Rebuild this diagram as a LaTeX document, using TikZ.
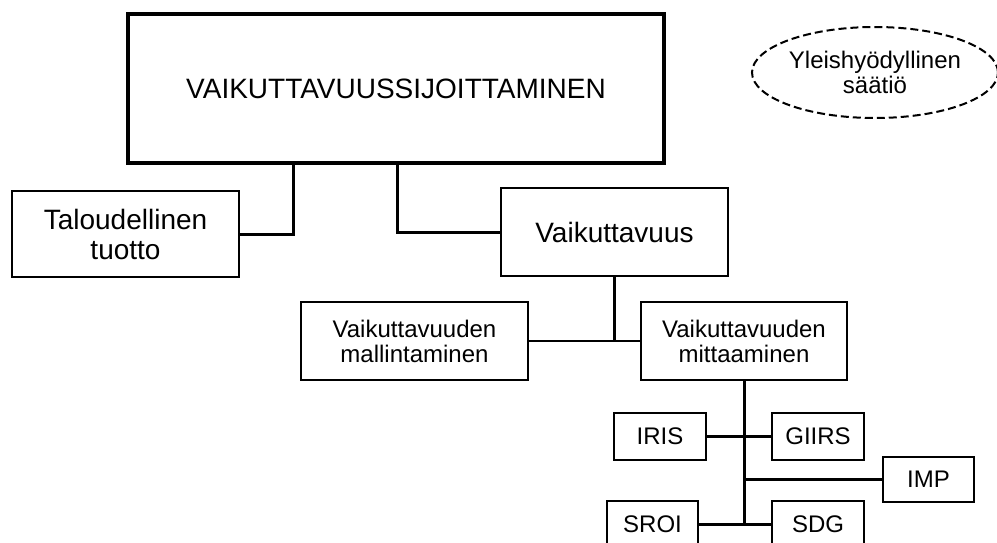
\documentclass[tikz,border=0pt]{standalone}
\usepackage{fontspec}
\setmainfont{Liberation Sans}
\usetikzlibrary{shapes.geometric}
\begin{document}
\begin{tikzpicture}[x=1pt,y=-1pt,
  box/.style={draw, rectangle, inner sep=0pt, line width=2.3pt, align=center},
  big/.style={font=\fontsize{28}{30}\selectfont},
  small/.style={font=\fontsize{24}{25}\selectfont},
  conn/.style={line width=2.3pt},
  thick conn/.style={line width=3pt}]
\useasboundingbox (0,0) rectangle (997,542);
\clip (0,0) rectangle (997,542);
\node[box, big, line width=3.5pt, minimum width=536pt, minimum height=149pt] (main) at (396,88.5) {VAIKUTTAVUUSSIJOITTAMINEN};
\node[draw, ellipse, dashed, dash pattern=on 8pt off 4pt, line width=2pt, inner sep=0pt, minimum width=246pt, minimum height=91pt, align=center, small] (saatio) at (875,72.5) {Yleishyödyllinen\\säätiö};
\node[box, big, minimum width=227pt, minimum height=86pt] (talo) at (125.5,234) {Taloudellinen\\tuotto};
\node[box, big, minimum width=227pt, minimum height=88pt] (vaik) at (614.5,232) {Vaikuttavuus};
\node[box, small, minimum width=227pt, minimum height=78pt] (mall) at (414.5,341) {Vaikuttavuuden\\mallintaminen};
\node[box, small, minimum width=206pt, minimum height=78pt] (mitt) at (744,341) {Vaikuttavuuden\\mittaaminen};
\node[box, small, minimum width=92pt, minimum height=47pt] (iris) at (660,436.5) {IRIS};
\node[box, small, minimum width=92pt, minimum height=47pt] (giirs) at (818,436.5) {GIIRS};
\node[box, small, minimum width=91pt, minimum height=45pt] (imp) at (928.5,479.5) {IMP};
\node[box, small, minimum width=91pt, minimum height=47pt] (sroi) at (652.5,524.5) {SROI};
\node[box, small, minimum width=92pt, minimum height=47pt] (sdg) at (818,524.5) {SDG};
\coordinate (j1) at (293,0);
\coordinate (j2) at (397,0);
\draw[thick conn] (main.south -| j1) |- (talo.east);
\draw[thick conn] (main.south -| j2) |- (vaik.west);
\draw[conn] (vaik.south) -- (vaik.south |- mall.east);
\draw[conn] (mall.east) -- (mitt.west);
\draw[thick conn] (mitt.south) -- (mitt.south |- sroi.east);
\draw[conn] (iris.east) -- (giirs.west);
\draw[conn] (mitt.south |- imp.west) -- (imp.west);
\draw[conn] (sroi.east) -- (sdg.west);
\end{tikzpicture}
\end{document}
